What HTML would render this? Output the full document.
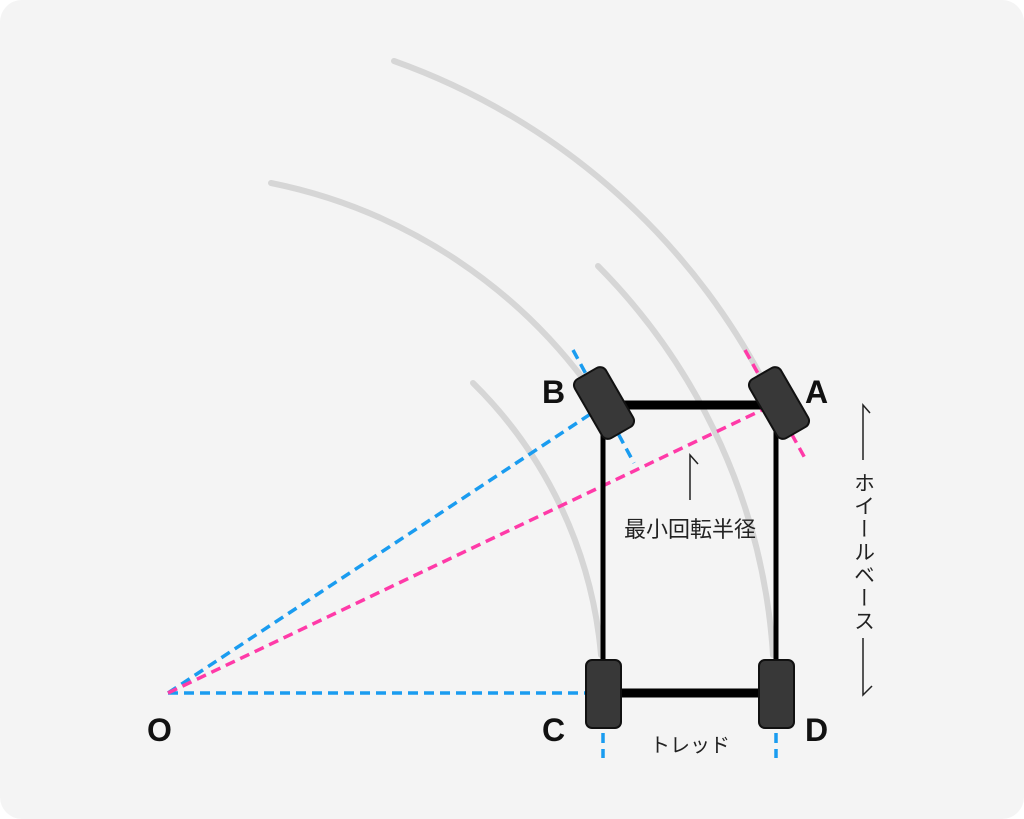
<!DOCTYPE html>
<html><head><meta charset="utf-8"><style>
body{margin:0;background:#fff;width:1024px;height:819px;overflow:hidden}
svg{display:block}
text{font-family:"Liberation Sans","Noto Sans CJK JP",sans-serif}
</style></head><body>
<svg width="1024" height="819" viewBox="0 0 1024 819">
<rect x="0" y="0" width="1024" height="819" rx="22" fill="#f4f4f4"/>
<g fill="none" stroke="#d6d6d6" stroke-width="6" stroke-linecap="round">
<path d="M394 61 A672 672 0 0 1 775 404"/>
<path d="M271 183 A521 521 0 0 1 601 404"/>
<path d="M598 266 A607 607 0 0 1 773 655"/>
<path d="M473 383 A435 435 0 0 1 601 655"/>
</g>
<g fill="none" stroke-width="3.5" stroke-dasharray="10 6">
<line x1="168" y1="693" x2="586" y2="693" stroke="#1a9cf0"/>
<line x1="168" y1="693" x2="592" y2="413" stroke="#1a9cf0"/>
<line x1="573" y1="350" x2="634" y2="463" stroke="#1a9cf0"/>
<line x1="603" y1="733" x2="603" y2="758" stroke="#1a9cf0"/>
<line x1="776" y1="733" x2="776" y2="758" stroke="#1a9cf0"/>
<line x1="168" y1="693" x2="762" y2="410" stroke="#ff3aa8"/>
<line x1="745" y1="350" x2="806" y2="460" stroke="#ff3aa8"/>
</g>
<g stroke="#000">
<line x1="603" y1="430" x2="603" y2="662" stroke-width="5"/>
<line x1="776" y1="430" x2="776" y2="662" stroke-width="5"/>
<line x1="612" y1="405" x2="768" y2="405" stroke-width="9"/>
<line x1="615" y1="693" x2="765" y2="693" stroke-width="9"/>
</g>
<g fill="#383838" stroke="#111" stroke-width="2">
<rect x="-18" y="-34" width="36" height="68" rx="7" transform="translate(604,403) rotate(-30)"/>
<rect x="-18" y="-34" width="36" height="68" rx="7" transform="translate(779,403) rotate(-30)"/>
<rect x="586" y="660" width="35" height="68" rx="6"/>
<rect x="759" y="660" width="35" height="68" rx="6"/>
</g>
<g font-weight="bold" font-size="32" fill="#111">
<text x="542" y="403">B</text>
<text x="805" y="403">A</text>
<text x="147" y="741">O</text>
<text x="542" y="741">C</text>
<text x="805" y="741">D</text>
</g>
<g stroke="#222" stroke-width="1.5" fill="none">
<polyline points="698,464 690,455 690,500"/>
<polyline points="870,413 863,405 863,460"/>
<polyline points="863,638 863,695 872,686"/>
</g>
<text x="690" y="537" font-size="22" text-anchor="middle" fill="#222">最小回転半径</text>
<text x="690" y="752" font-size="20" text-anchor="middle" fill="#222">トレッド</text>
<text x="863" y="472" font-size="21" fill="#222" style="writing-mode:vertical-rl;letter-spacing:2px" text-anchor="start">ホイールベース</text>
</svg>
</body></html>
